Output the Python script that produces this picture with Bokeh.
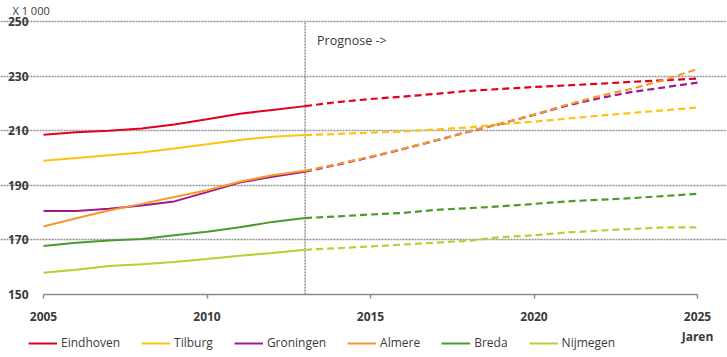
from bokeh.plotting import figure
from bokeh.models import Label, Legend, LegendItem, FixedTicker, Range1d
from bokeh.embed import file_html
from bokeh.resources import INLINE

# ---- data (x 1000 inhabitants) ----
cities = ["Eindhoven", "Tilburg", "Groningen", "Almere", "Breda", "Nijmegen"]
colors = ["#e2001a", "#ffc20e", "#a3168c", "#f39a2b", "#4a9a2c", "#b3d233"]

years_hist = [2005, 2006, 2007, 2008, 2009, 2010, 2011, 2012, 2013]
years_prog = [2013, 2014, 2015, 2016, 2017, 2018, 2019, 2020, 2021, 2022, 2023, 2024, 2025]

eindhoven_hist = [208.5, 209.4, 210.0, 210.8, 212.3, 214.2, 216.2, 217.6, 219.0]
eindhoven_prog = [219.0, 220.5, 221.6, 222.5, 223.5, 224.6, 225.3, 226.0, 226.6, 227.2, 227.9, 228.5, 229.1]
tilburg_hist = [199.0, 200.0, 201.0, 202.0, 203.5, 205.0, 206.6, 207.8, 208.4]
tilburg_prog = [208.4, 208.8, 209.3, 209.7, 210.5, 211.2, 212.4, 213.3, 214.4, 215.5, 216.5, 217.5, 218.5]
groningen_hist = [180.6, 180.6, 181.4, 182.6, 184.1, 187.5, 191.0, 193.1, 195.0]
groningen_prog = [195.0, 197.6, 200.3, 203.3, 206.4, 209.6, 212.6, 215.8, 219.2, 221.9, 224.2, 225.9, 227.6]
almere_hist = [174.9, 177.9, 180.8, 183.2, 185.7, 188.2, 191.3, 193.7, 195.3]
almere_prog = [195.3, 197.8, 200.5, 203.4, 206.5, 209.7, 212.7, 215.9, 219.5, 222.7, 225.4, 228.6, 232.6]
breda_hist = [167.8, 169.0, 169.8, 170.3, 171.7, 173.0, 174.6, 176.6, 178.0]
breda_prog = [178.0, 178.6, 179.3, 179.9, 181.0, 181.6, 182.3, 183.2, 184.1, 184.7, 185.3, 186.1, 186.9]
nijmegen_hist = [158.0, 159.1, 160.4, 161.1, 161.9, 163.0, 164.2, 165.2, 166.4]
nijmegen_prog = [166.4, 167.0, 167.6, 168.3, 169.0, 169.7, 171.0, 171.7, 172.7, 173.4, 174.0, 174.6, 174.6]

hist = [eindhoven_hist, tilburg_hist, groningen_hist, almere_hist, breda_hist, nijmegen_hist]
prog = [eindhoven_prog, tilburg_prog, groningen_prog, almere_prog, breda_prog, nijmegen_prog]

y_ticks = [150, 170, 190, 210, 230, 250]
x_ticks = [2005, 2010, 2015, 2020, 2025]
forecast_start = 2013

FONT = "Open Sans"
TXT = "#3a3a3a"
GRID = "#909090"

# ---- layout: frame covers the whole canvas; plot area 43..697 x 21..294 px ----
W, H = 727, 357
left_px, right_px, top_px, bottom_px = 43, 697, 21, 294
x0, x1 = x_ticks[0], x_ticks[-1]
y0, y1 = y_ticks[0], y_ticks[-1]
xs = (x1 - x0) / (right_px - left_px)
ys = (y1 - y0) / (bottom_px - top_px)
x_range = Range1d(x0 - left_px * xs, x1 + (W - right_px) * xs)
y_range = Range1d(y0 - (H - bottom_px) * ys, y1 + top_px * ys)

p = figure(width=W, height=H, output_backend="svg", toolbar_location=None,
           x_range=x_range, y_range=y_range, min_border=0)
p.outline_line_color = None
p.background_fill_color = "white"
p.border_fill_color = "white"

# grid
p.xgrid.grid_line_color = None
p.ygrid.ticker = FixedTicker(ticks=y_ticks[1:])
p.ygrid.bounds = (x0, x1)
p.ygrid.grid_line_color = GRID
p.ygrid.grid_line_dash = "2 1"
p.ygrid.grid_line_width = 1.5

# axes (fixed inside the frame)
p.yaxis.fixed_location = x0
p.yaxis.ticker = FixedTicker(ticks=y_ticks)
p.yaxis.axis_line_color = None
p.yaxis.major_tick_line_color = None
p.yaxis.minor_tick_line_color = None
p.yaxis.major_label_standoff = 9
p.yaxis.major_label_text_font = FONT
p.yaxis.major_label_text_font_size = "12px"
p.yaxis.major_label_text_font_style = "bold"
p.yaxis.major_label_text_color = TXT

p.xaxis.fixed_location = y0
p.xaxis.bounds = (x0, x1)
p.xaxis.ticker = FixedTicker(ticks=x_ticks)
p.xaxis.axis_line_color = "#8a8a8a"
p.xaxis.axis_line_width = 1.5
p.xaxis.major_tick_line_color = "#8a8a8a"
p.xaxis.major_tick_line_width = 1.5
p.xaxis.major_tick_out = 4
p.xaxis.major_tick_in = 0
p.xaxis.minor_tick_line_color = None
p.xaxis.major_label_standoff = 9
p.xaxis.major_label_text_font = FONT
p.xaxis.major_label_text_font_size = "12px"
p.xaxis.major_label_text_font_style = "bold"
p.xaxis.major_label_text_color = TXT
p.xaxis.major_label_overrides = {x1: f"{x1}\nJaren"}

# forecast divider
p.segment(x0=[forecast_start], y0=[y0], x1=[forecast_start], y1=[y1],
          line_color=GRID, line_dash="2 1", line_width=1.5)

items = []
for name, col, h, f in zip(cities, colors, hist, prog):
    r = p.line(years_hist, h, line_color=col, line_width=2)
    p.line(years_prog, f, line_color=col, line_width=2.2, line_dash="7 4")
    items.append(LegendItem(label=name, renderers=[r]))

p.add_layout(Label(x=forecast_start, y=243, x_offset=12, text="Prognose ->",
                   text_font=FONT, text_font_size="12.5px", text_color=TXT,
                   text_baseline="middle"))
p.add_layout(Label(x=12, y=H - 10, x_units="screen", y_units="screen", text="X 1 000",
                   text_font=FONT, text_font_size="11px", text_color=TXT,
                   text_baseline="middle"))

legend = Legend(items=items, orientation="horizontal", location=(28, 6),
                glyph_width=29, glyph_height=14, label_standoff=4, spacing=21,
                padding=0, margin=0, border_line_color=None, background_fill_alpha=0,
                label_text_font=FONT, label_text_font_size="12px", label_text_color=TXT,
                label_height=14)
p.add_layout(legend, "center")

open("out.html", "w").write(file_html(p, INLINE))
